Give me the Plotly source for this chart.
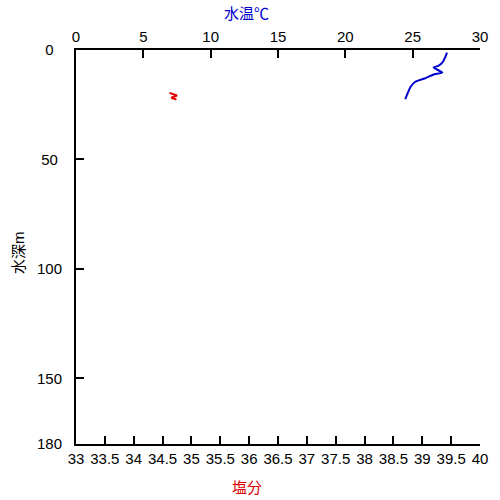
import plotly.graph_objects as go

# Water temperature profile (°C) against depth (m)
temp_c = [27.55, 27.4, 27.2, 26.9, 26.55, 27.2, 26.55, 25.95, 25.2, 24.85, 24.68, 24.45]
temp_depth = [1.2, 3.5, 5.8, 7.2, 8.0, 10.3, 11.2, 12.9, 14.5, 16.8, 19.0, 22.4]

# Salinity profile against depth (m)
salinity = [34.62, 34.75, 34.65, 34.74]
sal_depth = [19.6, 20.8, 21.8, 22.6]

depth_ticks = [0, 50, 100, 150, 180]
depth_labels = ["0", "50", "100", "150", "180"]

FONT = "Arial, Liberation Sans, Noto Sans CJK JP, sans-serif"
RED = "#e00000"
BLUE = "#0000d0"

# Depth labels are centred in a 3-digit column: pad short ones with
# non-breaking spaces (one space is about half a digit wide).
width = max(len(s) for s in depth_labels)
depth_text = [s + "\u00a0" * (width - len(s)) for s in depth_labels]

fig = go.Figure()
fig.add_trace(go.Scatter(x=salinity, y=sal_depth, mode="lines",
                         line=dict(color=RED, width=2),
                         xaxis="x", yaxis="y", showlegend=False))
fig.add_trace(go.Scatter(x=temp_c, y=temp_depth, mode="lines",
                         line=dict(color=BLUE, width=2, shape="spline", smoothing=0.4),
                         xaxis="x2", yaxis="y", showlegend=False))

axis_common = dict(showgrid=False, zeroline=False, showline=True,
                   linecolor="black", linewidth=2, ticks="inside",
                   ticklen=8, tickwidth=2, tickcolor="black", automargin=False,
                   tickfont=dict(size=15, color="black", family=FONT))


def axis_title(text, color, x_px, y_ref, y_shift, angle=0):
    # Axis captions placed in pixels relative to the plot frame
    return dict(text=text, textangle=angle, showarrow=False,
                xref="paper", yref="paper", x=0, y=y_ref,
                xanchor="center", yanchor="middle",
                xshift=x_px, yshift=y_shift,
                font=dict(color=color, size=15, family=FONT))


fig.update_layout(
    width=500, height=500,
    margin=dict(l=76, r=20, t=50, b=56),
    paper_bgcolor="white", plot_bgcolor="white",
    font=dict(family=FONT, size=15, color="black"),
    xaxis=dict(range=[33, 40], dtick=0.5, tick0=33, side="bottom", **axis_common),
    xaxis2=dict(range=[0, 30], dtick=5, tick0=0, side="top",
                overlaying="x", anchor="y", **axis_common),
    yaxis=dict(range=[180, 0], tickvals=depth_ticks, ticktext=depth_text,
               ticklabelstandoff=9, **axis_common),
    annotations=[
        axis_title("水温℃", BLUE, 170, 1, 37),
        axis_title("塩分", RED, 171, 0, -43),
        axis_title("水深m", "black", -58, 0.5, -6, angle=-90),
    ],
)

fig.write_html("out.html")
